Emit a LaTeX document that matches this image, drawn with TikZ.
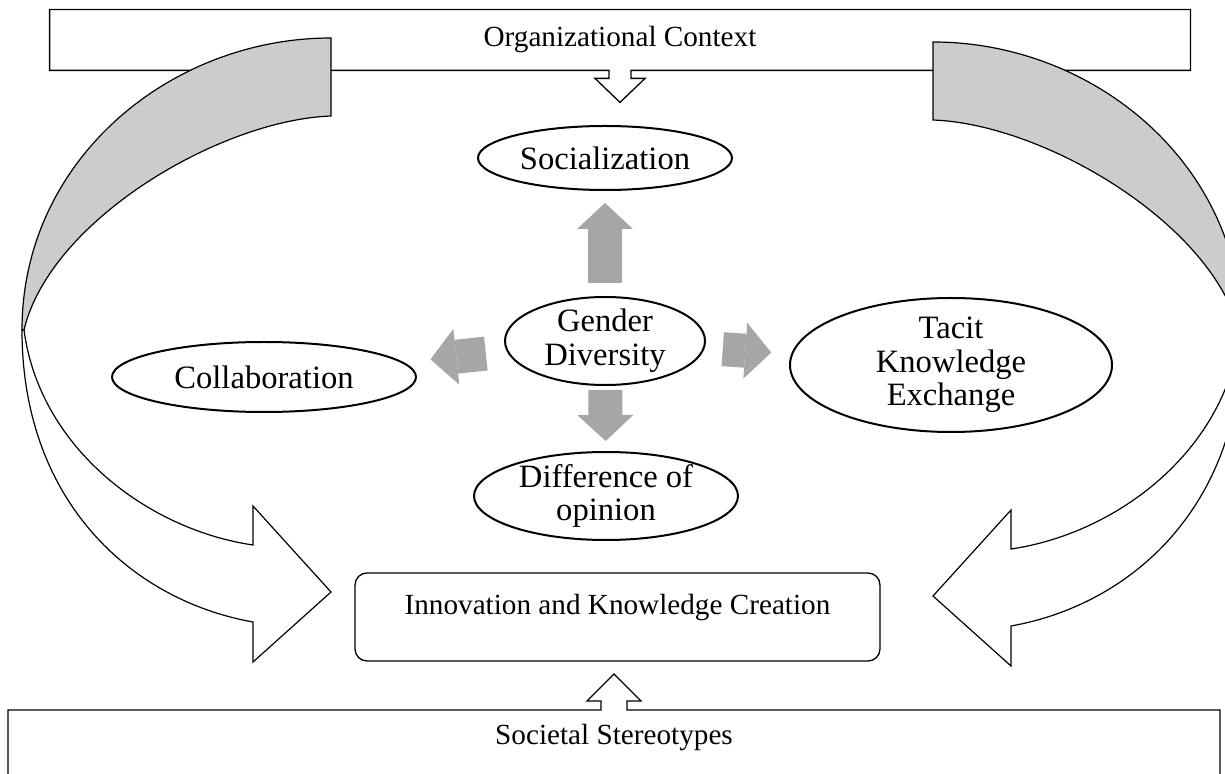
\documentclass[tikz,border=0pt]{standalone}
\usepackage{fontspec}
\setmainfont{Liberation Serif}
\definecolor{ribbongray}{RGB}{204,204,204}
\definecolor{arrowgray}{RGB}{166,166,166}
\usetikzlibrary{arrows.meta}
\usetikzlibrary{calc}
\usetikzlibrary{positioning}
\usetikzlibrary{shapes.geometric}
\tikzset{
  oval/.style={
    ellipse, draw, fill=white, line width=1pt,
    inner sep=-1.5pt, align=center,
    font=\fontsize{16.3}{16.8}\selectfont
  },
  boxtext/.style={inner sep=0, font=\fontsize{14.6}{17}\selectfont},
  outline/.style={draw, line width=0.65pt},
  blockarrow/.style={arrowgray, line width=17pt,
    -{Triangle[length=13pt, width=28pt, line width=0pt]}},
  ribbon/.pic={
    \filldraw[fill=ribbongray, line width=0.6pt]
      (331,38) -- (331,116) .. controls (220,120) and (50,220) .. (24,330)
      -- (22,330) .. controls (22,160) and (170,38) .. (331,38) -- cycle;
    \filldraw[fill=white, line width=0.6pt]
      (24,330) .. controls (40,450) and (150,530) .. (253,545)
      -- (253,506) -- (331,592) -- (253,662) -- (253,622)
      .. controls (130,600) and (22,500) .. (22,330) -- cycle;
  }
}

\begin{document}
\begin{tikzpicture}[x=0.5pt, y=-0.5pt]
\useasboundingbox (0,0) rectangle (1225,774);
\clip (0,0) rectangle (1225,774);

\node[boxtext, minimum width=570pt, minimum height=30pt] (orgctx) at (620,40) {Organizational Context};
\draw[outline] (orgctx.south west) -- (orgctx.north west) -- (orgctx.north east) -- (orgctx.south east)
  -- ([shift={(11,0)}]orgctx.south) -- ++(0,8) -- ++(14,0) -- ++(-25,24) -- ++(-25,-24) -- ++(14,0) -- ++(0,-8) -- cycle;

\pic at (0,0) {ribbon};
\pic[xscale=-1] at (1264,4) {ribbon};

\node[boxtext] (societal) at (614,738) {Societal Stereotypes};
\draw[outline] (8,800) -- (8,710) -- (601,710) -- (601,701) -- (587,701) -- (614,674)
  -- (641,701) -- (627,701) -- (627,710) -- (1220,710) -- (1220,800);

\node[boxtext, draw, line width=0.65pt, rounded corners=6pt, minimum width=262.5pt, minimum height=44pt,
  text height=10pt, text depth=12.5pt] (innov) at (617.5,617) {Innovation and Knowledge Creation};

\node[oval, minimum width=127pt, minimum height=32pt] (soc) at (605,158) {Socialization};
\node[oval, minimum width=100pt, minimum height=44pt] (gender) at (605,341) {Gender\\Diversity};
\node[oval, minimum width=152pt, minimum height=35pt] (collab) at (264,377) {Collaboration};
\node[oval, minimum width=161pt, minimum height=67pt] (tacit) at (951,365) {Tacit\\Knowledge\\Exchange};
\node[oval, minimum width=132pt, minimum height=44pt] (diff) at (606,496) {Difference of\\opinion};

\draw[blockarrow, shorten <=6.5pt, shorten >=6pt] (gender) -- (soc);
\draw[blockarrow, shorten <=2pt, shorten >=5pt] (gender) -- (diff);
\draw[blockarrow, shorten <=10.5pt, shorten >=13.5pt] (gender) -- (collab);
\draw[blockarrow, shorten <=9pt, shorten >=10pt] (gender) -- (tacit);
\end{tikzpicture}
\end{document}
